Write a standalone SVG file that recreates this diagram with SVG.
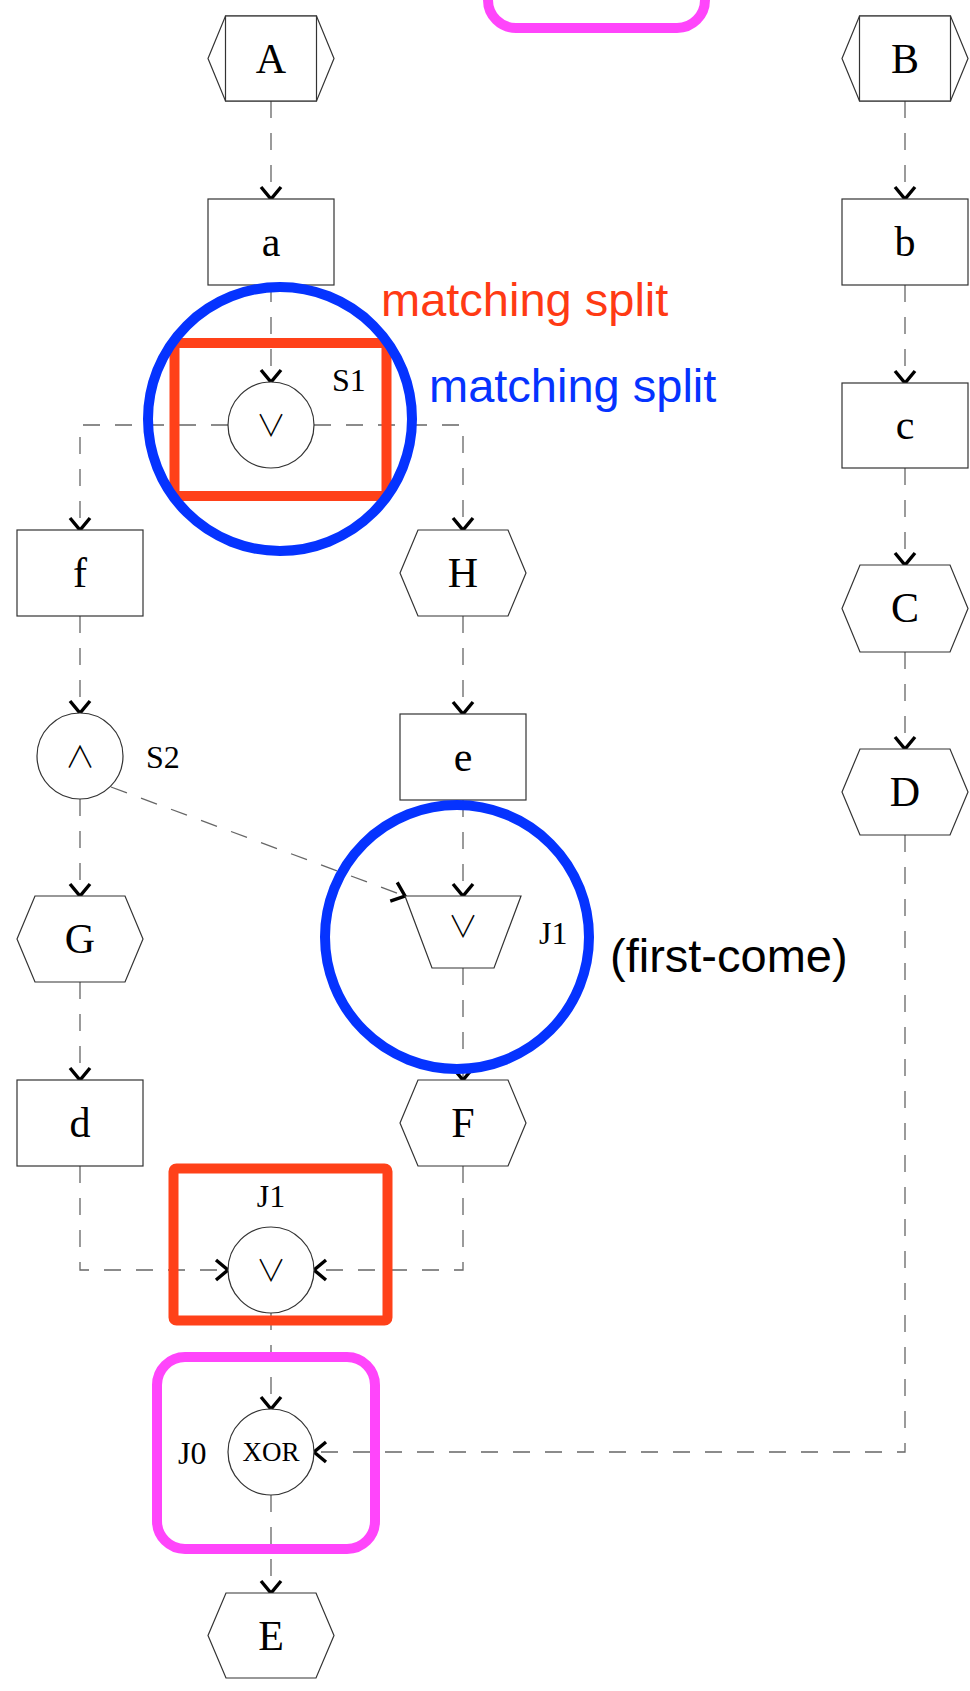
<svg xmlns="http://www.w3.org/2000/svg" width="970" height="1691" viewBox="0 0 970 1691">
<style>
.n{fill:#fff;stroke:#333;stroke-width:1.2}
.t{font-family:"Liberation Serif",serif;font-size:42px;fill:#000;text-anchor:middle}
.lb{font-family:"Liberation Serif",serif;font-size:32px;fill:#000}
.sym{font-family:"Noto Sans CJK JP","DejaVu Sans",sans-serif;font-size:30px;font-weight:300;fill:#000;text-anchor:middle}
.c{fill:none;stroke:#666;stroke-width:1.3;stroke-dasharray:17 15}
.ann{font-family:"Liberation Sans",Arial,sans-serif;font-size:47px}
</style>
<defs>
<marker id="ar" markerUnits="userSpaceOnUse" markerWidth="30" markerHeight="30" viewBox="-15 -15 30 30" refX="0" refY="0" orient="auto">
<path d="M-12,-10 L0,0 L-12,10" fill="none" stroke="#000" stroke-width="3.4"/>
</marker>
</defs>
<g id="connectors">
<path class="c" d="M271,101 V199" marker-end="url(#ar)"/>
<path class="c" d="M905,101 V199" marker-end="url(#ar)"/>
<path class="c" d="M905,285 V383" marker-end="url(#ar)"/>
<path class="c" d="M905,468 V565" marker-end="url(#ar)"/>
<path class="c" d="M905,652 V749" marker-end="url(#ar)"/>
<path class="c" d="M905,835 V1452 H314" marker-end="url(#ar)"/>
<path class="c" d="M271,285 V382" marker-end="url(#ar)"/>
<path class="c" d="M228,425 H80 V530" marker-end="url(#ar)"/>
<path class="c" d="M314,425 H463 V530" marker-end="url(#ar)"/>
<path class="c" d="M80,616 V713" marker-end="url(#ar)"/>
<path class="c" d="M463,616 V714" marker-end="url(#ar)"/>
<path class="c" d="M80,799 V896" marker-end="url(#ar)"/>
<path class="c" d="M111,787 L405,896" marker-end="url(#ar)"/>
<path class="c" d="M463,800 V896" marker-end="url(#ar)"/>
<path class="c" d="M463,968 V1080" marker-end="url(#ar)"/>
<path class="c" d="M80,982 V1080" marker-end="url(#ar)"/>
<path class="c" d="M80,1166 V1270 H228" marker-end="url(#ar)"/>
<path class="c" d="M463,1166 V1270 H314" marker-end="url(#ar)"/>
<path class="c" d="M271,1313 V1409" marker-end="url(#ar)"/>
<path class="c" d="M271,1495 V1593" marker-end="url(#ar)"/>
</g>
<g id="node-A"><polygon class="n" points="225.5,16 316.5,16 334,58.5 316.5,101 225.5,101 208,58.5"/><rect class="n" x="225.5" y="16" width="91" height="85"/><text class="t" x="271" y="73">A</text></g>
<g id="node-B"><polygon class="n" points="859.5,16 950.5,16 968,58.5 950.5,101 859.5,101 842,58.5"/><rect class="n" x="859.5" y="16" width="91" height="85"/><text class="t" x="905" y="73">B</text></g>
<g id="node-a"><rect class="n" x="208" y="199" width="126" height="86"/><text class="t" x="271" y="256">a</text></g>
<g id="node-b"><rect class="n" x="842" y="199" width="126" height="86"/><text class="t" x="905" y="256">b</text></g>
<g id="node-c"><rect class="n" x="842" y="383" width="126" height="85"/><text class="t" x="905" y="439">c</text></g>
<g id="node-S1"><circle class="n" cx="271" cy="425" r="43"/><text class="sym" x="271" y="436">∨</text><text class="lb" x="332" y="391">S1</text></g>
<g id="node-f"><rect class="n" x="17" y="530" width="126" height="86"/><text class="t" x="80" y="587">f</text></g>
<g id="node-H"><polygon class="n" points="418,530 508,530 526,573 508,616 418,616 400,573"/><text class="t" x="463" y="587">H</text></g>
<g id="node-C"><polygon class="n" points="860,565 950,565 968,608.5 950,652 860,652 842,608.5"/><text class="t" x="905" y="622">C</text></g>
<g id="node-S2"><circle class="n" cx="80" cy="756" r="43"/><text class="sym" x="80" y="767">∧</text><text class="lb" x="146" y="768">S2</text></g>
<g id="node-e"><rect class="n" x="400" y="714" width="126" height="86"/><text class="t" x="463" y="771">e</text></g>
<g id="node-D"><polygon class="n" points="860,749 950,749 968,792 950,835 860,835 842,792"/><text class="t" x="905" y="806">D</text></g>
<g id="node-G"><polygon class="n" points="35,896 125,896 143,939 125,982 35,982 17,939"/><text class="t" x="80" y="953">G</text></g>
<g id="node-J1a"><polygon class="n" points="405,896 521,896 494,968 432,968"/><text class="sym" x="463" y="937">∨</text><text class="lb" x="539" y="944">J1</text></g>
<g id="node-d"><rect class="n" x="17" y="1080" width="126" height="86"/><text class="t" x="80" y="1137">d</text></g>
<g id="node-F"><polygon class="n" points="418,1080 508,1080 526,1123 508,1166 418,1166 400,1123"/><text class="t" x="463" y="1137">F</text></g>
<g id="node-J1b"><circle class="n" cx="271" cy="1270" r="43"/><text class="sym" x="271" y="1281">∨</text><text class="lb" x="271" y="1207" text-anchor="middle">J1</text></g>
<g id="node-J0"><circle class="n" cx="271" cy="1452" r="43"/><text class="lb" x="271" y="1461" text-anchor="middle" style="font-size:27px">XOR</text><text class="lb" x="178" y="1464">J0</text></g>
<g id="node-E"><polygon class="n" points="226,1593 316,1593 334,1635.5 316,1678 226,1678 208,1635.5"/><text class="t" x="271" y="1650">E</text></g>
<g id="annotations">
<rect x="174.5" y="343" width="212" height="153" rx="2" fill="none" stroke="#FF4119" stroke-width="10"/>
<rect x="173.5" y="1168.5" width="214" height="152" rx="3" fill="none" stroke="#FF4119" stroke-width="10"/>
<circle cx="280" cy="419" r="132" fill="none" stroke="#0533FF" stroke-width="10"/>
<circle cx="457" cy="937" r="132" fill="none" stroke="#0533FF" stroke-width="10"/>
<rect x="488" y="-200" width="217" height="228" rx="28" fill="none" stroke="#FF45FB" stroke-width="10"/>
<rect x="157" y="1357" width="218" height="192" rx="28" fill="none" stroke="#FF45FB" stroke-width="10"/>
<text class="ann" x="381" y="316" fill="#FF3A14">matching split</text>
<text class="ann" x="429" y="402" fill="#0533FF">matching split</text>
<text class="ann" x="610" y="972" fill="#000">(first-come)</text>
</g>
</svg>
